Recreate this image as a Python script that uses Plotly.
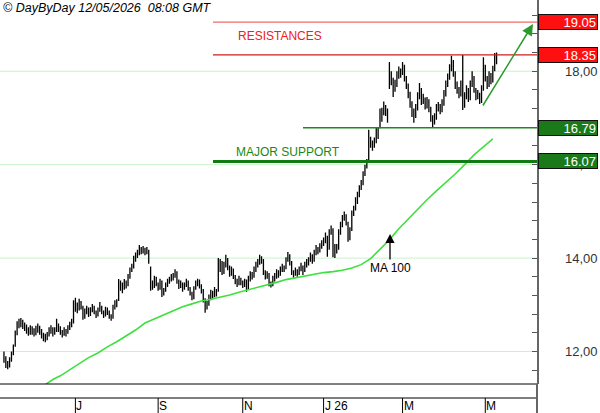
import numpy as np
import pandas as pd
import plotly.graph_objects as go

# ---------------- data ----------------
opens = [
 11.95, 11.85, 11.72, 11.70, 11.80, 11.95, 12.12, 12.38, 12.55, 12.60,
 12.62, 12.55, 12.50, 12.45, 12.40, 12.48, 12.42, 12.38, 12.45, 12.50,
 12.42, 12.35, 12.30, 12.28, 12.35, 12.45, 12.48, 12.40, 12.45, 12.55,
 12.50, 12.42, 12.38, 12.45, 12.40, 12.50, 12.58, 12.65, 12.95, 13.00,
 12.90, 13.05, 12.95, 12.75, 12.85, 12.90, 12.80, 12.88, 12.95, 12.85,
 12.78, 12.88, 12.95, 12.85, 12.78, 12.90, 12.85, 12.75, 12.72, 12.95,
 13.00, 13.10, 13.45, 13.40, 13.35, 13.48, 13.42, 13.60, 13.75, 13.80,
 13.95, 14.05, 14.10, 14.20, 14.15, 14.20, 14.12, 14.15, 13.80, 13.45,
 13.40, 13.55, 13.45, 13.35, 13.50, 13.25, 13.30, 13.42, 13.50, 13.55,
 13.60, 13.62, 13.70, 13.50, 13.40, 13.45, 13.35, 13.42, 13.50, 13.35,
 13.25, 13.15, 13.35, 13.45, 13.50, 13.40, 13.30, 13.10, 12.95, 13.00,
 13.15, 13.25, 13.20, 13.30, 13.30, 13.75, 13.90, 13.70, 13.85, 13.95,
 13.80, 13.65, 13.75, 13.60, 13.50, 13.45, 13.55, 13.48, 13.42, 13.50,
 13.35, 13.55, 13.65, 13.60, 13.75, 13.85, 13.90, 14.00, 13.95, 13.70,
 13.60, 13.65, 13.45, 13.42, 13.55, 13.60, 13.70, 13.65, 13.75, 13.80,
 13.78, 13.95, 14.05, 13.90, 13.70, 13.65, 13.72, 13.68, 13.75, 13.80,
 13.72, 13.85, 13.90, 13.95, 14.05, 13.95, 14.10, 14.20, 14.15, 14.25,
 14.30, 14.35, 14.45, 14.20, 14.55, 14.60, 14.25, 14.15, 14.20, 14.55,
 14.70, 14.85, 14.90, 14.75, 14.40, 14.60, 14.95, 15.05, 15.20, 15.35,
 15.50, 15.60, 15.80, 15.95, 16.10, 16.55, 16.45, 16.40, 16.50, 16.65,
 16.80, 16.95, 17.10, 17.20, 17.15, 17.66, 17.90, 17.80, 17.65, 17.70,
 17.90, 18.00, 17.95, 18.10, 17.85, 17.70, 17.50, 17.30, 17.10, 17.05,
 17.20, 17.45, 17.60, 17.35, 17.40, 17.25, 17.35, 17.20, 17.00, 16.90,
 17.00, 17.20, 17.25, 17.15, 17.30, 17.50, 17.70, 17.85, 18.05, 18.20,
 17.95, 17.70, 17.60, 17.50, 17.70, 17.25, 17.45, 17.60, 17.40, 17.70,
 17.85, 17.60, 17.45, 17.50, 17.35, 17.60, 18.10, 17.85, 17.70, 17.90,
 17.80, 18.05, 18.25,
]
highs = [
 12.00, 11.90, 11.80, 11.88, 12.00, 12.15, 12.45, 12.65, 12.70, 12.72,
 12.68, 12.62, 12.58, 12.52, 12.56, 12.54, 12.50, 12.55, 12.60, 12.55,
 12.48, 12.40, 12.38, 12.42, 12.52, 12.56, 12.52, 12.52, 12.70, 12.60,
 12.54, 12.46, 12.52, 12.48, 12.56, 12.64, 12.70, 13.10, 13.15, 13.05,
 13.13, 13.08, 12.98, 12.92, 12.98, 12.94, 12.95, 13.02, 12.98, 12.88,
 12.94, 13.06, 12.98, 12.88, 12.96, 12.94, 12.88, 12.80, 13.00, 13.10,
 13.12, 13.55, 13.52, 13.48, 13.55, 13.52, 13.66, 13.80, 13.88, 14.05,
 14.12, 14.18, 14.28, 14.24, 14.26, 14.22, 14.24, 14.18, 13.82, 13.52,
 13.62, 13.60, 13.48, 13.56, 13.52, 13.36, 13.48, 13.56, 13.60, 13.66,
 13.68, 13.76, 13.72, 13.54, 13.52, 13.48, 13.48, 13.56, 13.52, 13.38,
 13.28, 13.40, 13.52, 13.56, 13.54, 13.44, 13.34, 13.14, 13.08, 13.22,
 13.32, 13.30, 13.38, 13.34, 14.00, 13.98, 13.94, 13.92, 14.07, 14.00,
 13.84, 13.82, 13.78, 13.64, 13.56, 13.62, 13.58, 13.52, 13.56, 13.54,
 13.62, 13.72, 13.70, 13.82, 13.92, 13.98, 14.07, 14.04, 13.98, 13.74,
 13.72, 13.68, 13.50, 13.62, 13.68, 13.76, 13.74, 13.82, 13.88, 13.84,
 14.02, 14.13, 14.08, 13.94, 13.74, 13.80, 13.76, 13.82, 13.90, 13.84,
 13.92, 13.98, 14.02, 14.12, 14.08, 14.18, 14.28, 14.24, 14.32, 14.38,
 14.44, 14.55, 14.48, 14.62, 14.70, 14.64, 14.30, 14.30, 14.62, 14.78,
 14.92, 15.00, 14.94, 14.78, 14.66, 15.02, 15.12, 15.30, 15.42, 15.56,
 15.67, 15.86, 16.00, 16.12, 16.75, 16.60, 16.52, 16.58, 16.80, 16.80,
 17.20, 17.22, 17.35, 17.28, 17.20, 18.20, 18.00, 17.86, 17.82, 18.00,
 18.10, 18.06, 18.20, 18.14, 17.90, 17.74, 17.56, 17.36, 17.20, 17.30,
 17.55, 17.75, 17.64, 17.52, 17.44, 17.45, 17.40, 17.24, 17.06, 17.10,
 17.30, 17.34, 17.30, 17.40, 17.60, 17.80, 17.95, 18.15, 18.33, 18.24,
 18.00, 17.78, 17.66, 17.80, 18.35, 17.55, 17.70, 17.64, 17.80, 18.00,
 17.90, 17.64, 17.60, 17.54, 17.70, 18.30, 18.14, 17.90, 18.00, 17.96,
 18.12, 18.39, 18.40,
]
lows = [
 11.76, 11.65, 11.62, 11.66, 11.78, 11.92, 12.10, 12.35, 12.50, 12.52,
 12.48, 12.44, 12.38, 12.34, 12.36, 12.36, 12.32, 12.35, 12.40, 12.36,
 12.28, 12.22, 12.20, 12.24, 12.32, 12.38, 12.32, 12.36, 12.42, 12.42,
 12.36, 12.30, 12.34, 12.32, 12.38, 12.46, 12.52, 12.60, 12.85, 12.82,
 12.88, 12.90, 12.68, 12.70, 12.80, 12.74, 12.76, 12.84, 12.80, 12.72,
 12.75, 12.85, 12.80, 12.72, 12.75, 12.78, 12.70, 12.66, 12.70, 12.90,
 12.95, 13.08, 13.30, 13.25, 13.32, 13.35, 13.40, 13.56, 13.70, 13.78,
 13.92, 14.00, 14.06, 14.08, 14.10, 14.06, 14.08, 13.88, 13.30, 13.32,
 13.36, 13.40, 13.30, 13.32, 13.17, 13.20, 13.28, 13.38, 13.45, 13.50,
 13.52, 13.58, 13.45, 13.34, 13.36, 13.28, 13.32, 13.38, 13.30, 13.20,
 13.10, 13.12, 13.32, 13.40, 13.35, 13.24, 13.05, 12.83, 12.90, 12.98,
 13.10, 13.12, 13.16, 13.18, 13.28, 13.70, 13.64, 13.66, 13.80, 13.74,
 13.60, 13.62, 13.55, 13.44, 13.38, 13.42, 13.42, 13.36, 13.38, 13.28,
 13.32, 13.50, 13.54, 13.58, 13.70, 13.80, 13.86, 13.88, 13.64, 13.54,
 13.56, 13.40, 13.37, 13.40, 13.50, 13.56, 13.58, 13.62, 13.70, 13.70,
 13.76, 13.92, 13.84, 13.64, 13.58, 13.62, 13.60, 13.64, 13.72, 13.64,
 13.70, 13.80, 13.84, 13.92, 13.88, 13.92, 14.06, 14.08, 14.12, 14.20,
 14.26, 14.32, 14.03, 14.18, 14.50, 14.02, 14.00, 14.10, 14.18, 14.50,
 14.66, 14.80, 14.70, 14.35, 14.38, 14.58, 14.90, 15.02, 15.16, 15.30,
 15.46, 15.56, 15.76, 15.92, 16.08, 16.36, 16.30, 16.36, 16.46, 16.55,
 16.78, 16.92, 17.06, 17.04, 16.90, 17.62, 17.70, 17.45, 17.56, 17.66,
 17.84, 17.86, 17.92, 17.78, 17.62, 17.42, 17.22, 17.02, 16.90, 17.00,
 17.16, 17.40, 17.28, 17.30, 17.18, 17.20, 17.12, 16.92, 16.79, 16.86,
 16.96, 17.14, 17.08, 17.12, 17.26, 17.46, 17.66, 17.82, 18.00, 17.88,
 17.62, 17.52, 17.42, 17.46, 17.17, 17.22, 17.40, 17.34, 17.38, 17.66,
 17.54, 17.38, 17.40, 17.30, 17.32, 17.58, 17.78, 17.62, 17.66, 17.72,
 17.76, 18.00, 18.15,
]
closes = [
 11.85, 11.72, 11.70, 11.80, 11.95, 12.08, 12.35, 12.55, 12.60, 12.62,
 12.55, 12.50, 12.45, 12.40, 12.48, 12.42, 12.38, 12.45, 12.50, 12.42,
 12.35, 12.30, 12.28, 12.35, 12.45, 12.48, 12.40, 12.45, 12.55, 12.50,
 12.42, 12.38, 12.45, 12.40, 12.50, 12.58, 12.62, 12.95, 13.00, 12.90,
 13.05, 12.95, 12.75, 12.85, 12.90, 12.80, 12.88, 12.95, 12.85, 12.78,
 12.88, 12.95, 12.85, 12.78, 12.90, 12.85, 12.75, 12.72, 12.95, 13.00,
 13.05, 13.45, 13.40, 13.35, 13.48, 13.42, 13.60, 13.75, 13.80, 13.95,
 14.05, 14.10, 14.20, 14.15, 14.20, 14.12, 14.18, 13.95, 13.45, 13.40,
 13.55, 13.45, 13.35, 13.50, 13.25, 13.30, 13.42, 13.50, 13.55, 13.60,
 13.62, 13.70, 13.50, 13.40, 13.45, 13.35, 13.42, 13.50, 13.35, 13.25,
 13.15, 13.35, 13.45, 13.50, 13.40, 13.30, 13.10, 12.95, 13.00, 13.15,
 13.25, 13.20, 13.30, 13.25, 13.75, 13.90, 13.70, 13.85, 13.95, 13.80,
 13.65, 13.75, 13.60, 13.50, 13.45, 13.55, 13.48, 13.42, 13.50, 13.35,
 13.55, 13.65, 13.60, 13.75, 13.85, 13.90, 14.00, 13.95, 13.70, 13.60,
 13.65, 13.45, 13.42, 13.55, 13.60, 13.70, 13.65, 13.75, 13.80, 13.78,
 13.95, 14.05, 13.90, 13.70, 13.65, 13.72, 13.68, 13.75, 13.80, 13.72,
 13.85, 13.90, 13.95, 14.05, 13.95, 14.10, 14.20, 14.15, 14.25, 14.30,
 14.35, 14.45, 14.20, 14.55, 14.60, 14.25, 14.15, 14.20, 14.55, 14.70,
 14.85, 14.90, 14.75, 14.40, 14.60, 14.95, 15.05, 15.20, 15.35, 15.50,
 15.60, 15.80, 15.95, 16.10, 16.55, 16.45, 16.40, 16.50, 16.65, 16.70,
 16.95, 17.10, 17.20, 17.15, 17.00, 17.90, 17.80, 17.65, 17.70, 17.90,
 18.00, 17.95, 18.10, 17.85, 17.70, 17.50, 17.30, 17.10, 17.05, 17.20,
 17.45, 17.60, 17.35, 17.40, 17.25, 17.35, 17.20, 17.00, 16.90, 17.00,
 17.20, 17.25, 17.15, 17.30, 17.50, 17.70, 17.85, 18.05, 18.20, 17.95,
 17.70, 17.60, 17.50, 17.70, 17.25, 17.45, 17.60, 17.40, 17.70, 17.85,
 17.60, 17.45, 17.50, 17.35, 17.60, 18.10, 17.85, 17.70, 17.90, 17.80,
 18.05, 18.25, 18.30,
]

# 100-day moving average, read at sampled bars
ma_idx = [22, 26, 30, 35, 40, 45, 50, 55, 60, 65, 70, 75, 80, 85, 90, 95,
          100, 105, 110, 115, 120, 125, 130, 135, 140, 145, 150, 155, 160,
          165, 170, 175, 180, 185, 190, 195, 200, 205, 210, 215, 220, 225,
          230, 235, 240, 245, 250, 255, 260]
ma_vals = [11.29, 11.40, 11.48, 11.61, 11.74, 11.87, 11.97, 12.10, 12.21,
           12.34, 12.46, 12.61, 12.70, 12.79, 12.87, 12.96, 13.02, 13.08,
           13.12, 13.16, 13.21, 13.27, 13.32, 13.38, 13.43, 13.48, 13.54,
           13.58, 13.61, 13.65, 13.69, 13.71, 13.74, 13.79, 13.86, 13.99,
           14.18, 14.39, 14.63, 14.84, 15.05, 15.25, 15.44, 15.61, 15.80,
           16.00, 16.21, 16.38, 16.55]

month_starts = ["2025-07-01", "2025-09-01", "2025-11-01",
                "2026-01-01", "2026-03-01", "2026-05-01"]
month_labels = ["J", "S", "N", "J 26", "M", "M"]

resistance_levels = [19.05, 18.35]
support_levels = [16.79, 16.07]
grid_levels = [12, 14, 16, 18]
grid_labels = ["12,00", "14,00", "16,00", "18,00"]

header = "© DayByDay 12/05/2026\u00a0 08:08 GMT"

# ---------------- figure ----------------
dates = pd.bdate_range("2025-05-08", periods=len(closes))
idx = np.arange(len(closes))
tick_idx = [int(np.searchsorted(dates.values, np.datetime64(m))) for m in month_starts]

W, H = 600, 413
ML, MR, MT, MB = 0, 63, 0, 29
PW, PH = W - ML - MR, H - MT - MB
FONT = "Liberation Sans, Arial, sans-serif"

def px(x):  # pixel x -> paper
    return x / PW

def py(y):  # pixel y -> paper
    return (PH - y) / PH

fig = go.Figure()
fig.add_trace(go.Scatter(x=ma_idx, y=ma_vals, mode="lines",
                         line=dict(color="#3ee03e", width=1.6),
                         hoverinfo="skip", showlegend=False))
fig.add_trace(go.Ohlc(x=idx, open=opens, high=highs, low=lows, close=closes,
                      increasing=dict(line=dict(color="#000000", width=1.3)),
                      decreasing=dict(line=dict(color="#000000", width=1.3)),
                      tickwidth=0.35, showlegend=False, hoverinfo="skip"))

shapes = []
for g in grid_levels:
    shapes.append(dict(type="line", xref="paper", yref="y", x0=0, x1=1, y0=g, y1=g,
                       line=dict(color="#c8f2c8", width=1), layer="below"))
shapes.append(dict(type="line", xref="paper", yref="y", x0=px(213), x1=1,
                   y0=resistance_levels[0], y1=resistance_levels[0],
                   line=dict(color="#f06a6a", width=1.2)))
shapes.append(dict(type="line", xref="paper", yref="y", x0=px(213), x1=1,
                   y0=resistance_levels[1], y1=resistance_levels[1],
                   line=dict(color="#d01c1c", width=1.2)))
shapes.append(dict(type="line", xref="paper", yref="y", x0=px(303), x1=1,
                   y0=support_levels[0], y1=support_levels[0],
                   line=dict(color="#1a8a1a", width=1.6)))
shapes.append(dict(type="line", xref="paper", yref="y", x0=px(213), x1=1,
                   y0=support_levels[1], y1=support_levels[1],
                   line=dict(color="#127a12", width=3)))
# bottom frame lines
for yy in (0, py(398)):
    shapes.append(dict(type="line", xref="paper", yref="paper", x0=0, x1=1, y0=yy, y1=yy,
                       line=dict(color="black", width=1)))
shapes.append(dict(type="line", xref="paper", yref="paper", x0=1, x1=1, y0=py(413), y1=0,
                   line=dict(color="#666666", width=2)))
for t in tick_idx:
    shapes.append(dict(type="line", xref="x", yref="paper", x0=t, x1=t,
                       y0=py(398), y1=py(413), line=dict(color="black", width=1)))

ann = []
ann.append(dict(text="<i>" + header + "</i>", xref="paper", yref="paper", x=0, y=1,
                xanchor="left", yanchor="top", xshift=1, yshift=1, showarrow=False,
                font=dict(family=FONT, size=12.5, color="black")))
ann.append(dict(text="RESISTANCES", xref="paper", yref="paper", x=px(280), y=py(36),
                xanchor="center", yanchor="middle", showarrow=False,
                font=dict(family=FONT, size=12, color="#ee2020")))
ann.append(dict(text="MAJOR SUPPORT", xref="paper", yref="paper", x=px(288), y=py(152),
                xanchor="center", yanchor="middle", showarrow=False,
                font=dict(family=FONT, size=12, color="#168a16")))
# MA 100 label with arrow
ann.append(dict(text="MA 100", xref="paper", yref="paper", x=px(390), y=py(234),
                ax=0, ay=34, showarrow=True, arrowhead=2, arrowsize=1.4, arrowwidth=1.3,
                arrowcolor="black", font=dict(family=FONT, size=12, color="black")))
# green projection arrow
ann.append(dict(text="", xref="paper", yref="paper", x=px(533), y=py(24),
                ax=-51, ay=83, showarrow=True, arrowhead=2, arrowsize=1.5, arrowwidth=1.5,
                arrowcolor="#2a9a2a"))
# right axis labels
for g, lab in zip(grid_levels, grid_labels):
    ann.append(dict(text=lab, xref="paper", yref="y", x=1, y=g, xanchor="left",
                    yanchor="middle", xshift=26, showarrow=False,
                    font=dict(family=FONT, size=13, color="#333333")))
# level boxes
for lvl, col in [(resistance_levels[0], "#ff1010"), (resistance_levels[1], "#ff1010"),
                 (support_levels[0], "#1a7a1a"), (support_levels[1], "#1a7a1a")]:
    ann.append(dict(text=f"{lvl:.2f}", xref="paper", yref="y", x=1, y=lvl,
                    xanchor="left", yanchor="middle", xshift=1, width=56, height=12,
                    align="right", bgcolor=col, bordercolor="#111111", borderwidth=1,
                    borderpad=1, showarrow=False,
                    font=dict(family=FONT, size=13, color="white")))
# month labels
for t, lab in zip(tick_idx, month_labels):
    ann.append(dict(text=lab, xref="x", yref="paper", x=t, y=py(398), xanchor="left",
                    yanchor="top", xshift=-1, yshift=1, showarrow=False,
                    font=dict(family=FONT, size=12, color="black")))

fig.update_layout(
    width=W, height=H, margin=dict(l=ML, r=MR, t=MT, b=MB),
    paper_bgcolor="white", plot_bgcolor="white",
    shapes=shapes, annotations=ann, showlegend=False,
    xaxis=dict(range=[-2.1, 283.5], showgrid=False, zeroline=False, showline=False,
               showticklabels=False, ticks="", rangeslider=dict(visible=False),
               fixedrange=True),
    yaxis=dict(range=[11.305, 19.525], side="right", showgrid=False, zeroline=False,
               showline=True, linecolor="#666666", linewidth=2,
               ticks="inside", ticklen=5, tickcolor="#555555", tick0=12, dtick=0.4,
               showticklabels=False, fixedrange=True),
)

fig.write_html("out.html", config={"displayModeBar": False},
               post_script="document.body.style.margin='0';document.body.style.overflow='hidden';")
